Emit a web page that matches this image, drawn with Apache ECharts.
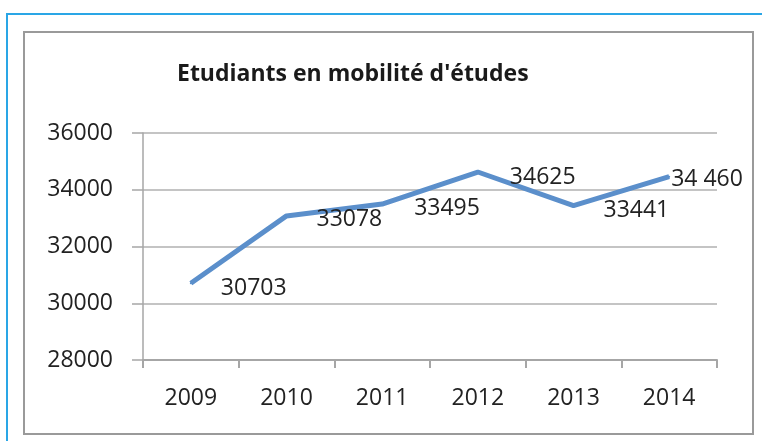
<!DOCTYPE html>
<html><head><meta charset="utf-8">
<script src="https://cdn.jsdelivr.net/npm/echarts@6/dist/echarts.min.js"></script>
<style>html,body{margin:0;padding:0;background:#fff}#c{width:762px;height:441px}</style>
</head><body><div id="c"></div>
<script>
var years = ["2009","2010","2011","2012","2013","2014"];
var students = [30703, 33078, 33495, 34625, 33441, 34460];
var valueLabels = ["30703","33078","33495","34625","33441","34 460"];
var yTicks = [28000, 30000, 32000, 34000, 36000];
var title = "Etudiants en mobilité d'études";

var labelOffsets = [[24,5],[24,4],[26,4],[26,5],[24,5],[-4,3]];
var font = "'Open Sans', sans-serif";
var chart = echarts.init(document.getElementById('c'), null, {renderer:'canvas'});
chart.setOption({
  animation:false,
  title:{text:title,left:172,top:58,textStyle:{fontFamily:font,fontSize:23,fontWeight:'bold',color:'#1a1a1a'}},
  graphic:[
    {type:'rect',shape:{x:7,y:14,width:800,height:500},style:{fill:'none',stroke:'#2aa6e6',lineWidth:2},silent:true},
    {type:'rect',shape:{x:24,y:32,width:729,height:402},style:{fill:'none',stroke:'#9a9a9a',lineWidth:2},silent:true}
  ],
  grid:{left:143,right:45,top:133,bottom:81},
  xAxis:{type:'category',data:years,boundaryGap:true,
    axisLine:{lineStyle:{color:'#a6a6a6',width:2}},
    axisTick:{show:true,alignWithLabel:false,length:8,lineStyle:{color:'#a6a6a6',width:2}},
    axisLabel:{margin:27,fontFamily:font,fontSize:23,color:'#222'}},
  yAxis:{type:'value',min:yTicks[0],max:yTicks[yTicks.length-1],interval:2000,
    axisLine:{show:true,lineStyle:{color:'#a6a6a6',width:1.5}},
    axisTick:{show:true,inside:false,length:11,lineStyle:{color:'#a6a6a6',width:1.5}},
    splitLine:{lineStyle:{color:'#b0b0b0',width:1.5}},
    axisLabel:{margin:30,fontFamily:font,fontSize:23,color:'#222',formatter:function(v){return String(v);}}},
  series:[{type:'line',
    data:students.map(function(v,i){return {value:v,label:{formatter:valueLabels[i],offset:labelOffsets[i]}};}),
    symbol:'circle',symbolSize:2,showSymbol:true,itemStyle:{color:'#5b8fcb'},
    lineStyle:{color:'#5b8fcb',width:5},
    label:{show:true,position:'right',fontFamily:font,fontSize:23,color:'#222'}}]
});
</script></body></html>
